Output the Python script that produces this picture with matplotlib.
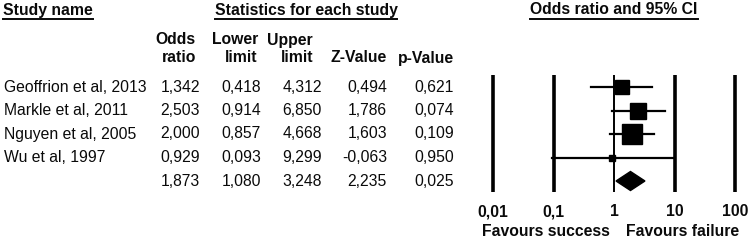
import numpy as np
import matplotlib
matplotlib.use("Agg")
import matplotlib.pyplot as plt
from matplotlib.patches import Polygon

plt.rcParams['font.family'] = ['Liberation Sans', 'DejaVu Sans']

# data
studies = ["Geoffrion et al, 2013", "Markle et al, 2011", "Nguyen et al, 2005", "Wu et al, 1997"]
odds = [1.342, 2.503, 2.000, 0.929]
lower = [0.418, 0.914, 0.857, 0.093]
upper = [4.312, 6.850, 4.668, 9.299]
zval = [0.494, 1.786, 1.603, -0.063]
pval = [0.621, 0.074, 0.109, 0.950]
pooled = [1.873, 1.080, 3.248, 2.235, 0.025]
xticks = [0.01, 0.1, 1, 10, 100]
xticklabels = ["0,01", "0,1", "1", "10", "100"]

W, H = 749, 241
fig = plt.figure(figsize=(W / 100, H / 100), dpi=100)

# text layer in pixel coordinates
ax = fig.add_axes([0, 0, 1, 1])
ax.set_xlim(0, W)
ax.set_ylim(H, 0)
ax.axis("off")

fs = 11.3
col = "#0a0a0a"


def fmt(v):
    return f"{v:.3f}".replace(".", ",")


def underline(t):
    fig.canvas.draw()
    bb = t.get_window_extent().transformed(ax.transData.inverted())
    x0, x1 = sorted([bb.x0, bb.x1])
    y = max(bb.y0, bb.y1) + 1.0
    ax.plot([x0, x1], [y, y], color=col, lw=1.4)


h1 = ax.text(3, 10, "Study name", fontsize=fs, fontweight="bold", va="center", ha="left", color=col)
h2 = ax.text(306, 10, "Statistics for each study", fontsize=fs, fontweight="bold", va="center", ha="center", color=col)
h3 = ax.text(614, 10, "Odds ratio and 95% CI", fontsize=fs, fontweight="bold", va="center", ha="center", color=col)
for t in (h1, h2, h3):
    underline(t)

col_x = [200, 261, 322, 387, 454]
headers = [("Odds", "ratio"), ("Lower", "limit"), ("Upper", "limit"), ("", "Z-Value"), ("", "p-Value")]
hx = [196, 258, 313, 387, 454]
for x, (a, b) in zip(hx, headers):
    if a:
        ax.text(x, 40, a, fontsize=fs, fontweight="bold", ha="right", va="center", color=col)
    ax.text(x, 58, b, fontsize=fs, fontweight="bold", ha="right", va="center", color=col)

row_y = [87 + 23.5 * i for i in range(len(studies) + 1)]
for i, name in enumerate(studies):
    y = row_y[i]
    ax.text(4, y, name, fontsize=fs, ha="left", va="center", color=col)
    vals = [odds[i], lower[i], upper[i], zval[i], pval[i]]
    for x, v in zip(col_x, vals):
        ax.text(x, y, fmt(v), fontsize=fs, ha="right", va="center", color=col)
for x, v in zip(col_x, pooled):
    ax.text(x, row_y[-1], fmt(v), fontsize=fs, ha="right", va="center", color=col)

# forest plot
fx0, fx1 = 493, 735
fa = fig.add_axes([fx0 / W, 0, (fx1 - fx0) / W, 1])
fa.set_xscale("log")
fa.set_xlim(0.01, 100)
fa.set_ylim(H, 0)
fa.axis("off")

for t in xticks:
    fa.plot([t, t], [75, 192], color="black", lw=1.4 if t == 1 else 2.6,
            clip_on=False, solid_capstyle="butt")

msize = [10, 11.5, 14.5, 4.5]
for i in range(len(studies)):
    y = row_y[i]
    fa.plot([lower[i], upper[i]], [y, y], color="black", lw=1.6, clip_on=False)
    fa.plot(odds[i], y, marker="s", color="black", ms=msize[i], clip_on=False)

yd = row_y[-1]
diamond = Polygon([[pooled[1], yd], [pooled[0], yd - 9.5], [pooled[2], yd], [pooled[0], yd + 9.5]],
                  closed=True, color="black", clip_on=False)
fa.add_patch(diamond)

for t, lab in zip(xticks, xticklabels):
    fa.text(t, 212, lab, fontsize=fs, fontweight="bold", ha="center", va="center", color=col, clip_on=False)

ax.text(546, 232, "Favours success", fontsize=fs, fontweight="bold", ha="center", va="center", color=col)
ax.text(683, 232, "Favours failure", fontsize=fs, fontweight="bold", ha="center", va="center", color=col)

fig.savefig("out.png", dpi=100)
